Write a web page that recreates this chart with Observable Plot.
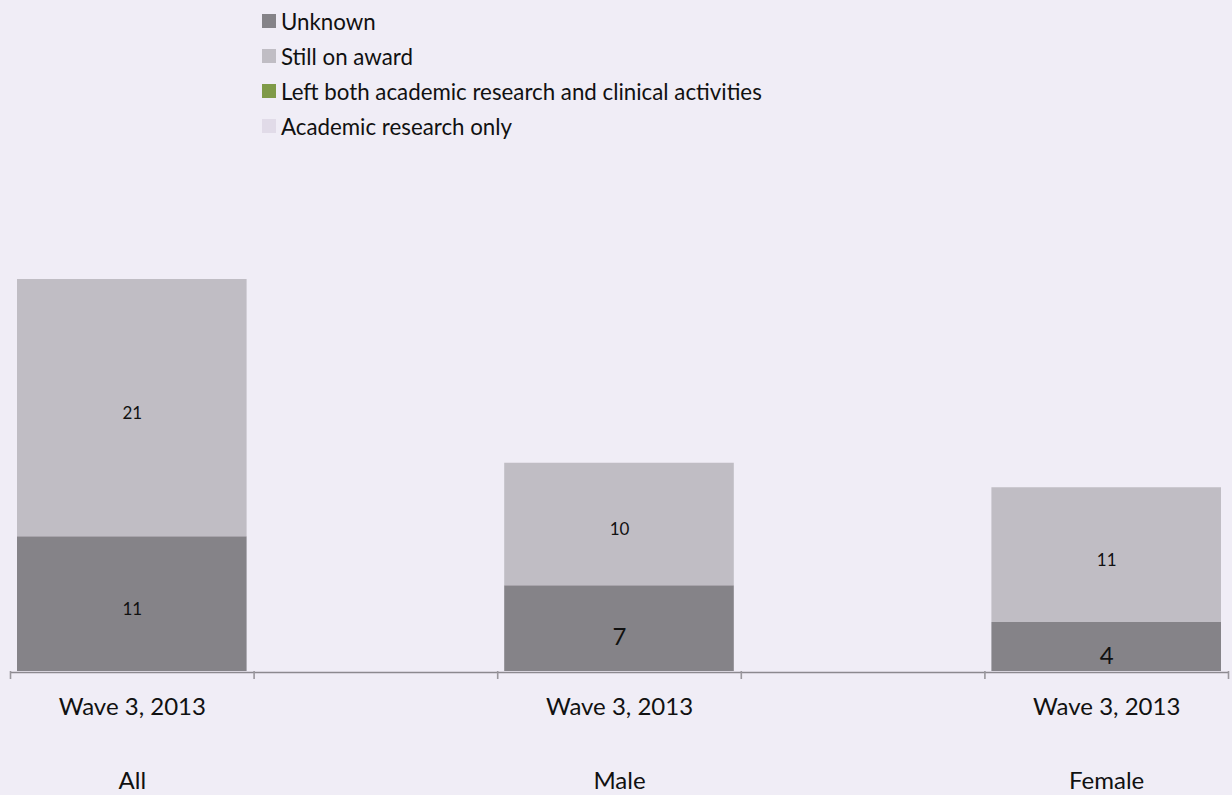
<!DOCTYPE html>
<html>
<head>
<meta charset="utf-8">
<script src="https://cdn.jsdelivr.net/npm/d3@7"></script>
<script src="https://cdn.jsdelivr.net/npm/@observablehq/plot@0.6"></script>
<style>
  html, body { margin: 0; padding: 0; background: #f0edf6; overflow: hidden; }
  body { width: 1232px; height: 795px; font-family: Lato, "Open Sans", sans-serif; color: #111; }
  #legend { height: 150px; position: relative; }
  .row { position: absolute; left: 262px; height: 22px; display: flex; align-items: center; font-size: 22.3px; white-space: nowrap; }
  .sw { width: 14px; height: 14px; margin-right: 5px; flex: none; }
  #chart svg { display: block; }
</style>
</head>
<body>
<div id="legend"></div>
<div id="chart"></div>
<script>
const groups = ["All", "Male", "Female"];
const waveLabels = ["Wave 3, 2013", "Wave 3, 2013", "Wave 3, 2013"];
const seriesNames = ["Unknown", "Still on award", "Left both academic research and clinical activities", "Academic research only"];
const unknownValues = [11, 7, 4];
const stillOnAwardValues = [21, 10, 11];
const leftBothValues = [0, 0, 0];
const academicOnlyValues = [0, 0, 0];
const seriesColors = ["#858388", "#c0bdc4", "#7f9a48", "#e1dbe8"];

const seriesValues = [unknownValues, stillOnAwardValues, leftBothValues, academicOnlyValues];
const data = [];
seriesNames.forEach((s, si) => {
  groups.forEach((g, gi) => {
    data.push({group: g, slot: gi * 2, series: s, value: seriesValues[si][gi]});
  });
});
const groupRows = groups.map((g, gi) => ({group: g, slot: gi * 2, wave: waveLabels[gi]}));

// legend
const legend = document.getElementById("legend");
seriesNames.forEach((s, i) => {
  const row = document.createElement("div");
  row.className = "row";
  row.style.top = (10 + i * 35) + "px";
  const sw = document.createElement("span");
  sw.className = "sw";
  sw.style.background = seriesColors[i];
  const t = document.createElement("span");
  t.textContent = s;
  row.appendChild(sw);
  row.appendChild(t);
  legend.appendChild(row);
});

const isBig = d => d.series === "Unknown" && d.group !== "All";

const chart = Plot.plot({
  width: 1232,
  height: 645,
  marginLeft: 10,
  marginRight: 4,
  marginTop: 129,
  marginBottom: 124,
  style: {background: "transparent", fontFamily: "Lato, 'Open Sans', sans-serif", color: "#111"},
  x: {type: "linear", domain: [0, 5], axis: null, label: null},
  y: {domain: [0, 32], axis: null},
  color: {domain: seriesNames, range: seriesColors},
  marks: [
    Plot.rectY(data, Plot.stackY({
      x1: "slot",
      x2: d => d.slot + 1,
      y: "value",
      z: "series",
      fill: "series",
      order: seriesNames,
      insetLeft: 7,
      insetRight: 7
    })),
    Plot.text(data, Plot.stackY({
      x: d => d.slot + 0.5,
      y: "value",
      z: "series",
      order: seriesNames,
      text: d => (d.value > 0 && !isBig(d)) ? String(d.value) : "",
      fontSize: 17,
      dy: 5,
      fill: "#111"
    })),
    Plot.text(data, Plot.stackY({
      x: d => d.slot + 0.5,
      y: "value",
      z: "series",
      order: seriesNames,
      text: d => (d.value > 0 && isBig(d)) ? String(d.value) : "",
      fontSize: 24,
      dy: 9,
      fill: "#111"
    })),
    Plot.ruleY([0], {stroke: "#8c898f", strokeWidth: 1.6, dy: 1}),
    Plot.axisX({ticks: d3.range(0, 6), tickSize: 8, tickFormat: () => "", label: null, stroke: "#9a979d", strokeWidth: 1.6, anchor: "bottom"}),
    Plot.text(groupRows, {x: d => d.slot + 0.5, y: 0, text: "wave", dy: 36, fontSize: 24}),
    Plot.text(groupRows, {x: d => d.slot + 0.5, y: 0, text: "group", dy: 110, fontSize: 24})
  ]
});
document.getElementById("chart").appendChild(chart);
</script>
</body>
</html>
